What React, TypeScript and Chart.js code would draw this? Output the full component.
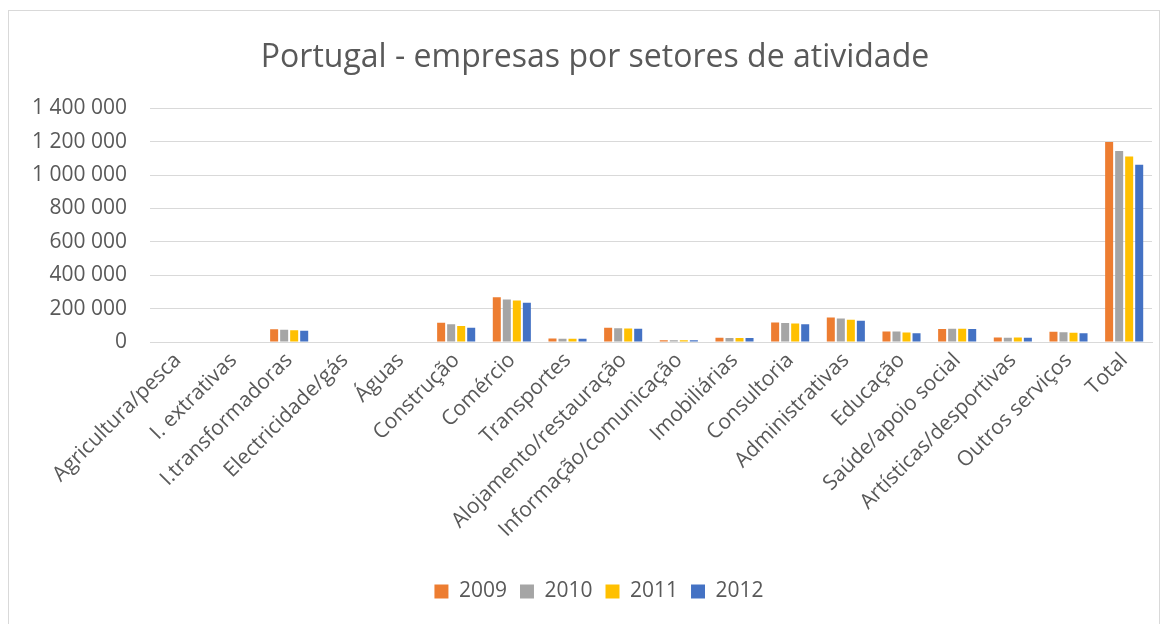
import React, { useEffect, useRef } from "react";
import { Chart, registerables } from "chart.js";

Chart.register(...registerables);

const categories = [
  "Agricultura/pesca",
  "I. extrativas",
  "I.transformadoras",
  "Electricidade/gás",
  "Águas",
  "Construção",
  "Comércio",
  "Transportes",
  "Alojamento/restauração",
  "Informação/comunicação",
  "Imobiliárias",
  "Consultoria",
  "Administrativas",
  "Educação",
  "Saúde/apoio social",
  "Artísticas/desportivas",
  "Outros serviços",
  "Total",
];

const years = ["2009", "2010", "2011", "2012"];

const values2009 = [null, null, 77000, null, null, 116000, 268000, 21000, 85000, 11000, 25000, 117000, 147000, 63000, 78000, 27000, 62000, 1198000];
const values2010 = [null, null, 73000, null, null, 106000, 255000, 20000, 82000, 10000, 24000, 114000, 141000, 63000, 80000, 25000, 58000, 1145000];
const values2011 = [null, null, 71000, null, null, 96000, 248000, 20000, 81000, 10000, 24000, 111000, 134000, 57000, 80000, 27000, 56000, 1112000];
const values2012 = [null, null, 68000, null, null, 86000, 235000, 19000, 79000, 10000, 24000, 106000, 128000, 53000, 78000, 25000, 53000, 1063000];

const seriesColors = ["#ED7D31", "#A5A5A5", "#FFC000", "#4472C4"];

const yMax = 1400000;
const yStep = 200000;

const TEXT = "#595959";
const GRID = "#D9D9D9";
const FONT = "'Open Sans', sans-serif";

function fmt(v: number): string {
  return String(Math.round(v)).replace(/\B(?=(\d{3})+(?!\d))/g, " ");
}

const shiftBlocks = {
  id: "shiftBlocks",
  afterLayout(chart: any) {
    if (chart.titleBlock) chart.titleBlock.left = 38;
    if (chart.legend) chart.legend.left = 46;
  },
};

export default function App() {
  const ref = useRef<HTMLCanvasElement | null>(null);

  useEffect(() => {
    if (!ref.current) return;
    const all = [values2009, values2010, values2011, values2012];
    const chart = new Chart(ref.current, {
      type: "bar",
      data: {
        labels: categories,
        datasets: years.map((y, i) => ({
          label: y,
          data: all[i],
          backgroundColor: seriesColors[i],
          borderWidth: 0,
          categoryPercentage: 0.72,
          barPercentage: 0.8,
        })),
      },
      plugins: [shiftBlocks],
      options: {
        responsive: false,
        animation: false,
        maintainAspectRatio: false,
        layout: { padding: { left: 0, right: 18, top: 0, bottom: 12 } },
        plugins: {
          title: {
            display: true,
            text: "Portugal - empresas por setores de atividade",
            color: TEXT,
            font: { family: FONT, size: 32, weight: "normal" },
            padding: { top: 39, bottom: 31 },
          },
          legend: {
            position: "bottom",
            labels: {
              color: TEXT,
              font: { family: FONT, size: 21 },
              boxWidth: 14,
              boxHeight: 14,
              padding: 13,
            },
          },
          tooltip: { enabled: false },
        },
        scales: {
          x: {
            grid: { display: false, drawTicks: false },
            border: { display: true, color: GRID, width: 1 },
            ticks: {
              color: TEXT,
              font: { family: FONT, size: 21 },
              minRotation: 45,
              maxRotation: 45,
              autoSkip: false,
              padding: 6,
            },
            afterFit: (s: any) => {
              s.height = 226;
            },
          },
          y: {
            min: 0,
            max: yMax,
            grid: { color: GRID, lineWidth: 1, drawTicks: false },
            border: { display: false },
            ticks: {
              stepSize: yStep,
              color: TEXT,
              font: { family: FONT, size: 21 },
              padding: 23,
              callback: (v: any) => fmt(Number(v)),
            },
            afterFit: (s: any) => {
              s.width = 150;
            },
          },
        },
      },
    });
    return () => chart.destroy();
  }, []);

  return (
    <div style={{ position: "fixed", left: 0, top: 0, width: 1170, height: 624, background: "#fff", overflow: "hidden" }}>
      <div
        style={{
          position: "absolute",
          left: 8,
          top: 10,
          width: 1152,
          height: 640,
          border: "1px solid #D9D9D9",
          boxSizing: "border-box",
        }}
      />
      <canvas ref={ref} width={1170} height={624} style={{ position: "absolute", left: 0, top: 0 }} />
    </div>
  );
}
